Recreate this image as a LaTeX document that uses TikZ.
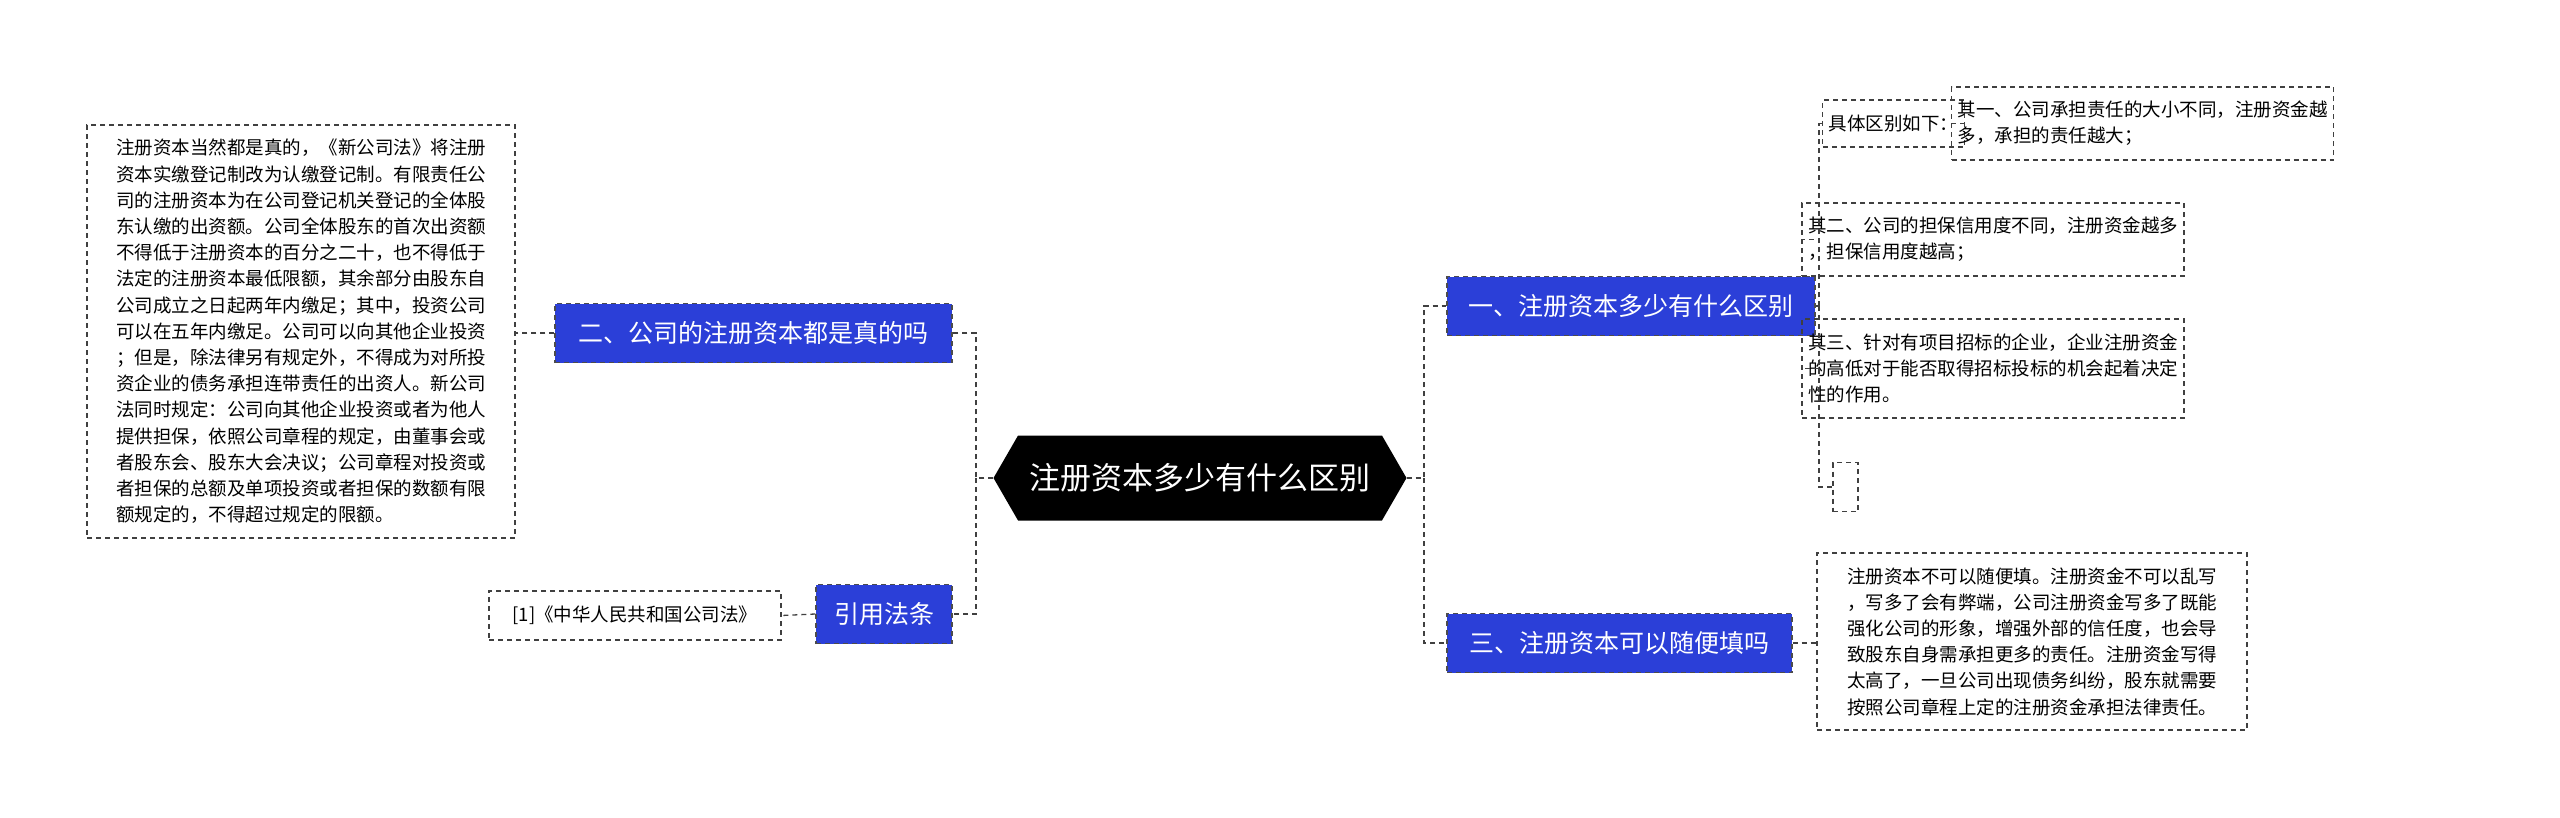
\documentclass[tikz,border=0pt]{standalone}
\usepackage{fontspec}
\setmainfont{Noto Sans CJK SC}
\usetikzlibrary{shapes.misc,shapes.geometric,shapes.symbols}
\definecolor{bl}{HTML}{2B3FD8}
\tikzset{
 leaf/.style={draw=black!75,dashed,line width=1.3pt,dash pattern=on 5pt off 4pt,inner sep=6pt,align=left,font=\fontsize{18.5}{26.2}\selectfont,anchor=north west},
 branch/.style={draw=black!70,dashed,line width=1.3pt,dash pattern=on 5pt off 4pt,fill=bl,text=white,font=\fontsize{25}{30}\selectfont,inner sep=0pt,minimum height=59pt},
 con/.style={draw=black!75,line width=1.3pt,dash pattern=on 5pt off 4pt}
}
\begin{document}
\begin{tikzpicture}[x=1pt,y=-1pt]
\useasboundingbox (0,0) rectangle (2560,817);
% center
\node[fill=black,text=white,font=\fontsize{31}{36}\selectfont,signal,signal to=east and west,signal pointer angle=120,minimum width=413pt,minimum height=85pt,inner sep=0pt] (c) at (1200,478) {注册资本多少有什么区别};
% branches
\node[branch,minimum width=397pt] (b2) at (753.5,333) {二、公司的注册资本都是真的吗};
\node[branch,minimum width=136pt] (bf) at (884,614) {引用法条};
\node[branch,minimum width=368pt] (b1) at (1631,306) {一、注册资本多少有什么区别};
\node[branch,minimum width=345pt] (b3) at (1619.5,643) {三、注册资本可以随便填吗};
% leaves
\node[leaf,minimum width=428pt,minimum height=413pt,anchor=center] (t2) at (301,331.5) {注册资本当然都是真的，《新公司法》将注册\\资本实缴登记制改为认缴登记制。有限责任公\\司的注册资本为在公司登记机关登记的全体股\\东认缴的出资额。公司全体股东的首次出资额\\不得低于注册资本的百分之二十，也不得低于\\法定的注册资本最低限额，其余部分由股东自\\公司成立之日起两年内缴足；其中，投资公司\\可以在五年内缴足。公司可以向其他企业投资\\；但是，除法律另有规定外，不得成为对所投\\资企业的债务承担连带责任的出资人。新公司\\法同时规定：公司向其他企业投资或者为他人\\提供担保，依照公司章程的规定，由董事会或\\者股东会、股东大会决议；公司章程对投资或\\者担保的总额及单项投资或者担保的数额有限\\额规定的，不得超过规定的限额。};
\node[leaf,minimum width=292pt,minimum height=49pt,anchor=center] (tf) at (635,615.5) {[1]《中华人民共和国公司法》};
\node[leaf,minimum width=121pt,minimum height=47pt,anchor=center] (k0) at (1893.5,123.5) {具体区别如下：};
\node[leaf,minimum width=319pt,minimum height=73pt,anchor=center] (k1) at (2142.5,123.5) {其一、公司承担责任的大小不同，注册资金越\\多，承担的责任越大；};
\node[leaf,minimum width=320pt,minimum height=73pt,anchor=center] (k2) at (1993,239.5) {其二、公司的担保信用度不同，注册资金越多\\，担保信用度越高；};
\node[leaf,minimum width=320pt,minimum height=99pt,anchor=center] (k3) at (1993,368.5) {其三、针对有项目招标的企业，企业注册资金\\的高低对于能否取得招标投标的机会起着决定\\性的作用。};
\node[leaf,minimum width=25pt,minimum height=49pt,inner sep=0pt,anchor=center] (k4) at (1845.5,487) {};
\node[leaf,minimum width=430pt,minimum height=177pt,anchor=center] (t3) at (2032,641.5) {注册资本不可以随便填。注册资金不可以乱写\\，写多了会有弊端，公司注册资金写多了既能\\强化公司的形象，增强外部的信任度，也会导\\致股东自身需承担更多的责任。注册资金写得\\太高了，一旦公司出现债务纠纷，股东就需要\\按照公司章程上定的注册资金承担法律责任。};
% connectors
\coordinate (cr) at (1424,478);
\coordinate (cl) at (976,478);
\draw[con] (c.east) -- (cr) |- (b1.west);
\draw[con] (cr) |- (b3.west);
\draw[con] (c.west) -- (cl) |- (b2.east);
\draw[con] (cl) |- (bf.east);
\draw[con] (b2.west) -- (t2.east|-b2.west);
\draw[con] (bf.west) -- (tf.east);
\draw[con] (b3.east) -- (t3.west|-b3.east);
\coordinate (br) at (1819,306);
\draw[con] (b1.east) -- (br);
\draw[con] (br) |- (k0.west);
\draw[con] (br) |- (k2.west);
\draw[con] (br) |- (k3.west);
\draw[con] (br) |- (k4.west);
\draw[con] (k0.east) -- (k1.west|-k0.east);
\end{tikzpicture}
\end{document}
